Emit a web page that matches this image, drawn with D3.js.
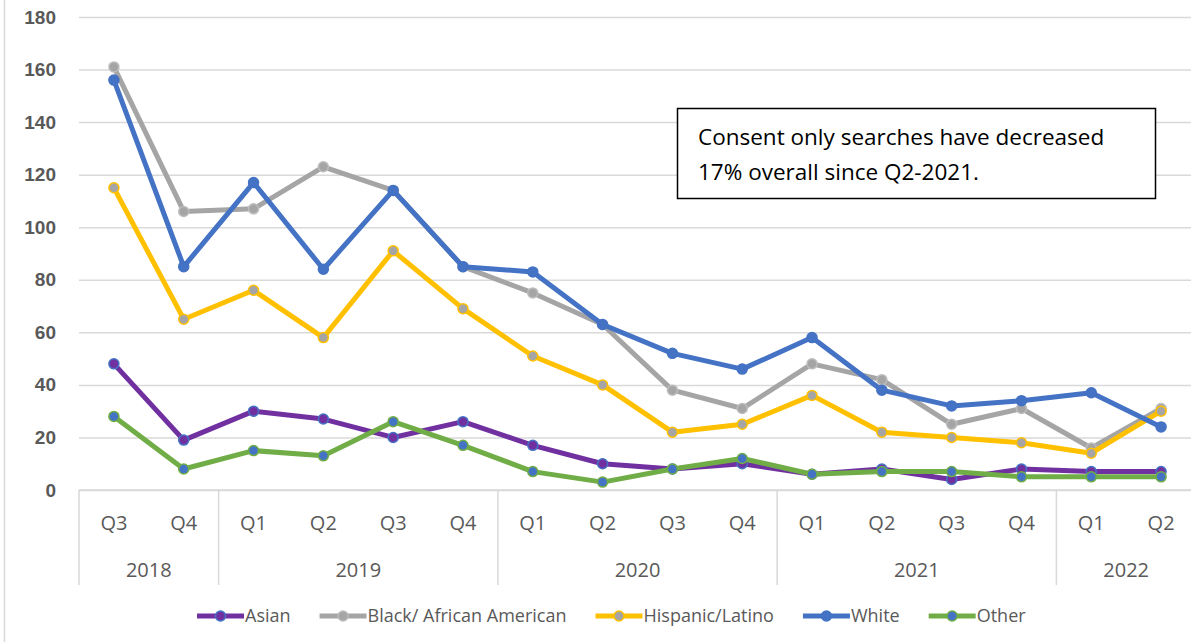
<!DOCTYPE html>
<html>
<head>
<meta charset="utf-8">
<script src="https://cdn.jsdelivr.net/npm/d3@7"></script>
<style>
  body { margin: 0; background: #fff; }
  svg { display: block; font-family: "Open Sans", Lato, sans-serif; }
</style>
</head>
<body>
<div id="chart"></div>
<script>
// quarters along the x axis, grouped by year
const quarters = ['Q3','Q4','Q1','Q2','Q3','Q4','Q1','Q2','Q3','Q4','Q1','Q2','Q3','Q4','Q1','Q2'];
const years = ['2018','2019','2020','2021','2022'];
const yearSpans = [2, 4, 4, 4, 2];
const yTicks = [0, 20, 40, 60, 80, 100, 120, 140, 160, 180];

// consent only searches by race
const asian    = [48, 19, 30, 27, 20, 26, 17, 10, 8, 10, 6, 8, 4, 8, 7, 7];
const black    = [161, 106, 107, 123, 114, 85, 75, 63, 38, 31, 48, 42, 25, 31, 16, 31];
const hispanic = [115, 65, 76, 58, 91, 69, 51, 40, 22, 25, 36, 22, 20, 18, 14, 30];
const white    = [156, 85, 117, 84, 114, 85, 83, 63, 52, 46, 58, 38, 32, 34, 37, 24];
const other    = [28, 8, 15, 13, 26, 17, 7, 3, 8, 12, 6, 7, 7, 5, 5, 5];

const noteLines = ['Consent only searches have decreased', '17% overall since Q2-2021.'];

const series = [
  {name: 'Asian', values: asian, stroke: '#7030a0', fill: '#7030a0', ring: '#4472c4'},
  {name: 'Black/ African American', values: black, stroke: '#a5a5a5', fill: '#a5a5a5', ring: '#bdbdbd'},
  {name: 'Hispanic/Latino', values: hispanic, stroke: '#ffc000', fill: '#a5a5a5', ring: '#ffc000'},
  {name: 'White', values: white, stroke: '#4472c4', fill: '#4472c4', ring: '#4472c4'},
  {name: 'Other', values: other, stroke: '#70ad47', fill: '#4472c4', ring: '#70ad47'}
];

const w = 1191, h = 642;
const mLeft = 79, mRight = 1196, mTop = 17, mBottom = 490;
const grid = '#d9d9d9', textCol = '#595959';

const svg = d3.select('#chart').append('svg')
  .attr('width', w)
  .attr('height', h);

// outer frame line on the left
svg.append('line')
  .attr('x1', 4.5).attr('x2', 4.5)
  .attr('y1', 0).attr('y2', h)
  .attr('stroke', grid).attr('stroke-width', 1.5);

const xScale = d3.scaleBand()
  .domain(d3.range(quarters.length))
  .range([mLeft, mRight]);
const cx = i => xScale(i) + xScale.bandwidth() / 2;

const yScale = d3.scaleLinear()
  .domain([0, 180])
  .range([mBottom, mTop]);

// y axis with gridlines
const yAxis = d3.axisLeft(yScale)
  .tickValues(yTicks)
  .tickSize(-(w - mLeft))
  .tickPadding(23);

const yg = svg.append('g')
  .attr('transform', `translate(${mLeft},0)`)
  .call(yAxis);
yg.select('.domain').remove();
yg.selectAll('.tick line').attr('stroke', grid).attr('stroke-width', 1.5);
yg.selectAll('.tick text')
  .attr('fill', textCol)
  .style('font-size', '19px')
  .style('font-weight', '600');

// category axis: quarter labels, year labels and separators
const xg = svg.append('g');
xg.append('line')
  .attr('x1', mLeft).attr('x2', w)
  .attr('y1', mBottom).attr('y2', mBottom)
  .attr('stroke', grid).attr('stroke-width', 1.5);

xg.selectAll('.q')
  .data(quarters)
  .enter()
  .append('text')
  .attr('class', 'q')
  .attr('x', (d, i) => cx(i))
  .attr('y', 530)
  .attr('text-anchor', 'middle')
  .attr('fill', textCol)
  .style('font-size', '20px')
  .text(d => d);

const starts = yearSpans.map((s, i) => d3.sum(yearSpans.slice(0, i)));
xg.selectAll('.sep')
  .data(starts)
  .enter()
  .append('line')
  .attr('x1', i => xScale(i)).attr('x2', i => xScale(i))
  .attr('y1', mBottom).attr('y2', 585)
  .attr('stroke', grid).attr('stroke-width', 1.5);

xg.selectAll('.yr')
  .data(years)
  .enter()
  .append('text')
  .attr('class', 'yr')
  .attr('x', (d, i) => xScale(starts[i]) + yearSpans[i] * xScale.bandwidth() / 2)
  .attr('y', 577)
  .attr('text-anchor', 'middle')
  .attr('fill', textCol)
  .style('font-size', '20px')
  .text(d => d);

// lines and markers
const line = d3.line()
  .x((d, i) => cx(i))
  .y(d => yScale(d));

series.forEach(s => {
  const g = svg.append('g');
  g.append('path')
    .datum(s.values)
    .attr('d', line)
    .attr('fill', 'none')
    .attr('stroke', s.stroke)
    .attr('stroke-width', 5)
    .attr('stroke-linejoin', 'round');
  g.selectAll('circle')
    .data(s.values)
    .enter()
    .append('circle')
    .attr('cx', (d, i) => cx(i))
    .attr('cy', d => yScale(d))
    .attr('r', 5)
    .attr('fill', s.fill)
    .attr('stroke', s.ring)
    .attr('stroke-width', 1.5);
});

// annotation box
const note = svg.append('g');
note.append('rect')
  .attr('x', 677.5).attr('y', 108.5)
  .attr('width', 478).attr('height', 90)
  .attr('fill', '#fff')
  .attr('stroke', '#000')
  .attr('stroke-width', 1.5);
note.selectAll('text')
  .data(noteLines)
  .enter()
  .append('text')
  .attr('x', 698)
  .attr('y', (d, i) => 145 + i * 35)
  .attr('fill', '#000')
  .style('font-size', '22.5px')
  .text(d => d);

// legend
const legend = svg.append('g').attr('transform', 'translate(0,616)');
let lx = 197;
series.forEach(s => {
  const item = legend.append('g').attr('transform', `translate(${lx},0)`);
  item.append('line')
    .attr('x1', 0).attr('x2', 47)
    .attr('y1', 0).attr('y2', 0)
    .attr('stroke', s.stroke)
    .attr('stroke-width', 5);
  item.append('circle')
    .attr('cx', 23.5).attr('cy', 0)
    .attr('r', 5)
    .attr('fill', s.fill)
    .attr('stroke', s.ring)
    .attr('stroke-width', 1.5);
  const t = item.append('text')
    .attr('x', 48)
    .attr('y', 0)
    .attr('dy', '0.35em')
    .attr('fill', textCol)
    .style('font-size', '18px')
    .text(s.name);
  lx += 48 + t.node().getComputedTextLength() + 29;
});
</script>
</body>
</html>
